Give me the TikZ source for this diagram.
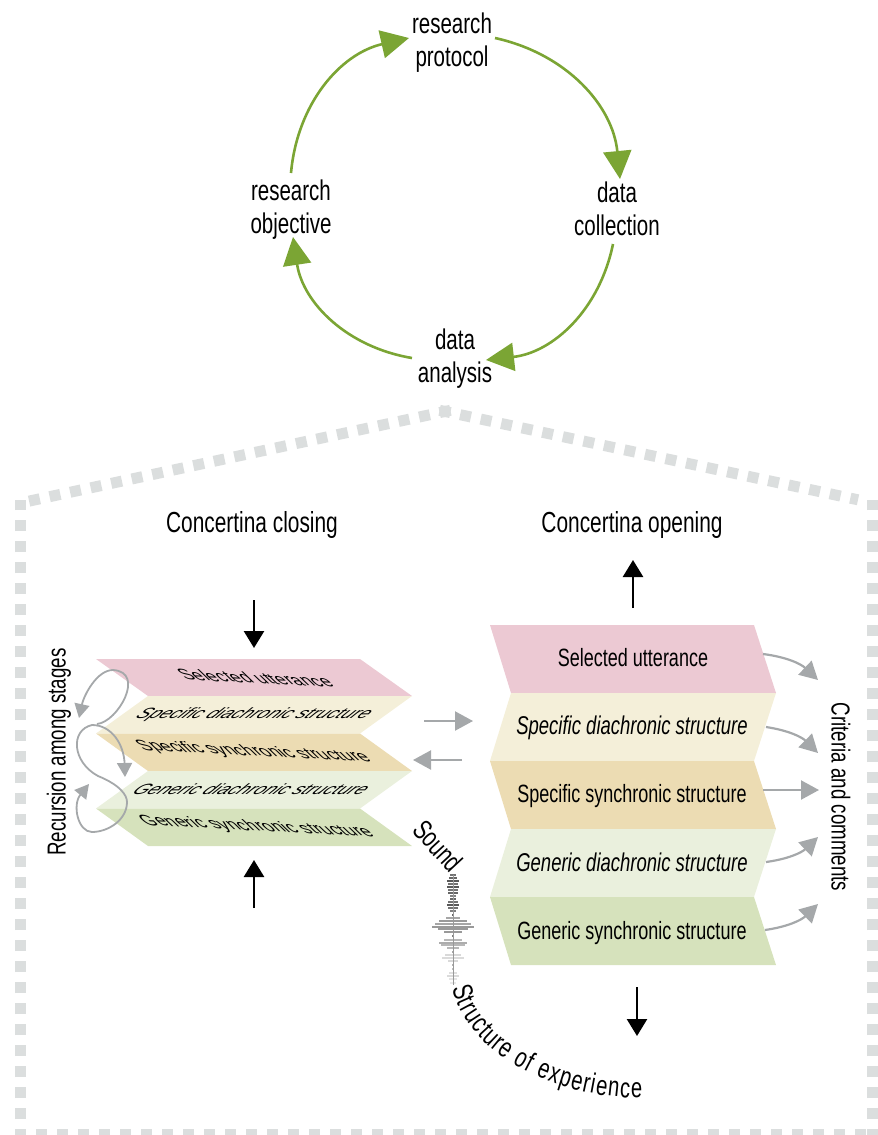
\documentclass[tikz,border=0pt]{standalone}
\usepackage{fontspec}
\setmainfont[FakeStretch=.72]{Liberation Sans}
\usetikzlibrary{arrows.meta,
                decorations.text, % For text along the curves
               }
\definecolor{cyclegreen}{HTML}{7BA534}
\definecolor{dotgray}{HTML}{DBDEDE}
\definecolor{arrowgray}{HTML}{A5A8AA}
\definecolor{panelpink}{HTML}{ECC9D3}
\definecolor{panelcream}{HTML}{F4EFD9}
\definecolor{paneltan}{HTML}{ECDCB3}
\definecolor{panelpale}{HTML}{EAF0DD}
\definecolor{panelgreen}{HTML}{D6E2BC}
\tikzset{
  biglabel/.style={font=\fontsize{28.5}{33}\selectfont, align=center, inner sep=0pt},
  headlabel/.style={font=\fontsize{29}{33}\selectfont, inner sep=0pt},
  sidelabel/.style={font=\fontsize{26}{30}\selectfont, inner sep=0pt},
  openlabel/.style={font=\fontsize{25}{28}\selectfont, inner sep=0pt},
  diachronic/.style={font=\fontsize{25.7}{28}\selectfont\itshape, inner sep=0pt},
  closeup/.style={openlabel, transform shape, yslant=-.05, xslant=-1.1, yscale=.58},
  closedown/.style={diachronic, transform shape, xslant=1, yscale=.58},
  cyclearrow/.style={cyclegreen, line width=2.6pt, -{Triangle[length=28pt,width=28pt]}},
  blackarrow/.style={black, line width=2.6pt, -{Triangle[length=17pt,width=20pt]}},
  grayarrow/.style={arrowgray, line width=2.2pt, -{Triangle[length=18pt,width=19pt]}},
  thinarrow/.style={arrowgray, line width=1.8pt, -{Triangle[length=14pt,width=15pt]}},
  dotline/.style={dotgray, line width=11pt, dash pattern=on 11pt off 10pt},
}
\begin{document}
\begin{tikzpicture}[x=1pt, y=-1pt]
  \useasboundingbox (0,0) rectangle (878,1135);
  \clip (0,0) rectangle (878,1135);

  % research cycle
  \node[biglabel] (protocol) at (452,43) {research\\protocol};
  \node[biglabel] (collection) at (617,209) {data\\collection};
  \node[biglabel] (analysis) at (455,359) {data\\analysis};
  \node[biglabel] (objective) at (291,210) {research\\objective};
  \coordinate (p1) at (495,38);
  \coordinate (c0) at (620,179);
  \coordinate (c1) at (613,244);
  \coordinate (a0) at (486,360);
  \coordinate (a1) at (412,358);
  \coordinate (o0) at (293,237);
  \coordinate (o1) at (291,173);
  \coordinate (p0) at (409,38);
  \draw[cyclearrow] (o1) to[bend left=36] (p0);
  \draw[cyclearrow] (p1) to[bend left=36] (c0);
  \draw[cyclearrow] (c1) to[bend left=36] (a0);
  \draw[cyclearrow] (a1) to[bend left=36] (o0);

  % dotted house
  \draw[dotline] (450.4,410.3) -- (25,502);
  \draw[dotline] (439.6,410.3) -- (858,499.8);
  \draw[dotline] (20.5,1140) -- (20.5,500);
  \draw[dotline] (872.5,1140) -- (872.5,500);
  \draw[dotline] (15,1134.5) -- (878,1134.5);

  \node[headlabel] (closing) at (252,525) {Concertina closing};
  \node[headlabel] (opening) at (632,525) {Concertina opening};

  % closed stack
  \fill[panelpink] (96,659) -- (360,659) -- (412,696) -- (148,696) -- cycle;
  \fill[panelcream] (148,696) -- (412,696) -- (360,733.5) -- (96,733.5) -- cycle;
  \fill[paneltan] (96,733.5) -- (360,733.5) -- (412,771) -- (148,771) -- cycle;
  \fill[panelpale] (148,771) -- (412,771) -- (360,808.5) -- (96,808.5) -- cycle;
  \fill[panelgreen] (96,808.5) -- (360,808.5) -- (412,846) -- (148,846) -- cycle;
  \node[closeup] (c-sel) at (255,678) {Selected utterance};
  \node[closedown] (c-sdia) at (254,715) {Specific diachronic structure};
  \node[closeup] (c-ssyn) at (254,752) {Specific synchronic structure};
  \node[closedown] (c-gdia) at (252,789) {Generic diachronic structure};
  \node[closeup] (c-gsyn) at (257,827) {Generic synchronic structure};

  % open stack
  \fill[panelpink] (490,625) -- (754,625) -- (776,693) -- (511,693) -- cycle;
  \fill[panelcream] (511,693) -- (776,693) -- (754,761) -- (490,761) -- cycle;
  \fill[paneltan] (490,761) -- (754,761) -- (776,829) -- (511,829) -- cycle;
  \fill[panelpale] (511,829) -- (776,829) -- (754,897) -- (490,897) -- cycle;
  \fill[panelgreen] (490,897) -- (754,897) -- (776,965) -- (511,965) -- cycle;
  \node[openlabel] (o-sel) at (633,658) {Selected utterance};
  \node[diachronic] (o-sdia) at (632,728) {Specific diachronic structure};
  \node[openlabel] (o-ssyn) at (632,796) {Specific synchronic structure};
  \node[diachronic] (o-gdia) at (632,862) {Generic diachronic structure};
  \node[openlabel] (o-gsyn) at (632,933) {Generic synchronic structure};

  % black arrows
  \coordinate (b1) at (254,600);
  \coordinate (b2) at (254,648);
  \coordinate (b3) at (254,908);
  \coordinate (b4) at (254,860);
  \coordinate (b5) at (633,608);
  \coordinate (b6) at (633,560);
  \coordinate (b7) at (637,987);
  \coordinate (b8) at (637,1036);
  \draw[blackarrow] (b1) -- (b2);
  \draw[blackarrow] (b3) -- (b4);
  \draw[blackarrow] (b5) -- (b6);
  \draw[blackarrow] (b7) -- (b8);

  % between the stacks
  \coordinate (m1) at (424,721);
  \coordinate (m2) at (473,721);
  \coordinate (m3) at (462,760);
  \coordinate (m4) at (413,760);
  \draw[grayarrow] (m1) -- (m2);
  \draw[grayarrow] (m3) -- (m4);

  % to criteria
  \node[sidelabel, rotate=-90] (criteria) at (841,797) {Criteria and comments};
  \coordinate (k1) at (763,654);
  \coordinate (t1) at (818,680);
  \coordinate (k2) at (766,727);
  \coordinate (t2) at (818,753);
  \coordinate (k3) at (763,790);
  \coordinate (t3) at (819,790);
  \coordinate (k4) at (766,862);
  \coordinate (t4) at (818,837);
  \coordinate (k5) at (765,930);
  \coordinate (t5) at (818,904);
  \draw[grayarrow] (k1) to[bend left=18] (t1);
  \draw[grayarrow] (k2) to[bend left=18] (t2);
  \draw[grayarrow] (k3) -- (t3);
  \draw[grayarrow] (k4) to[bend right=18] (t4);
  \draw[grayarrow] (k5) to[bend right=18] (t5);

  % recursion
  \node[sidelabel, rotate=90] (recursion) at (59,752) {Recursion among stages};
  \coordinate (r0) at (97,724);
  \coordinate (r1) at (92,725);
  \coordinate (r2) at (79,718);
  \coordinate (r3) at (125,777);
  \coordinate (r4) at (89,784);
  \draw[thinarrow] (r0) .. controls (118,722) and (146,672) .. (113,670)
                        .. controls (97,670) and (84,695) .. (r2);
  \draw[thinarrow] (r1) .. controls (112,725) and (124,745) .. (r3);
  \draw[thinarrow] (r1) .. controls (70,730) and (72,762) .. (98,776)
                        .. controls (120,785) and (127,795) .. (127,802)
                        .. controls (127,820) and (108,832) .. (92,832)
                        .. controls (78,832) and (72,805) .. (r4);

  % sound and experience
  \foreach \yy/\hw/\lev in {
      875/3/55,878/4/60,881/6/65,884/5/55,887/6/65,890/5/55,893/5/60,896/3/50,
      899/3/60,902/5/55,905/6/65,908/5/55,911/3/50,915/1/60,
      918/7/35,921/14/40,924/18/35,927/21/40,929/15/40,932/9/40,936/1/50,
      940/9/28,943/14/32,945/12/28,948/6/28,952/1/35,
      955/8/15,958/11/14,961/5/15,965/1/30,
      969/1/25,973/4/12,976/6/14,979/4/10,983/3/8}
    \draw[black!\lev, line width=1.5pt] (453-\hw,\yy) -- (453+\hw,\yy);
  \draw[black!40, line width=1pt] (453,875) -- (453,985);

  \path[decorate, decoration={text along path, text align=left,
      text={|\fontsize{28}{30}\selectfont|Sound}}]
    (411,831) .. controls (423,844) and (434,856) .. (447,870);
  \path[decorate, decoration={text along path, text align={fit to path},
      text={|\fontsize{28}{30}\selectfont|Structure of experience}}]
    (452,988) .. controls (468,1052) and (550,1098) .. (642,1098);
\end{tikzpicture}
\end{document}
